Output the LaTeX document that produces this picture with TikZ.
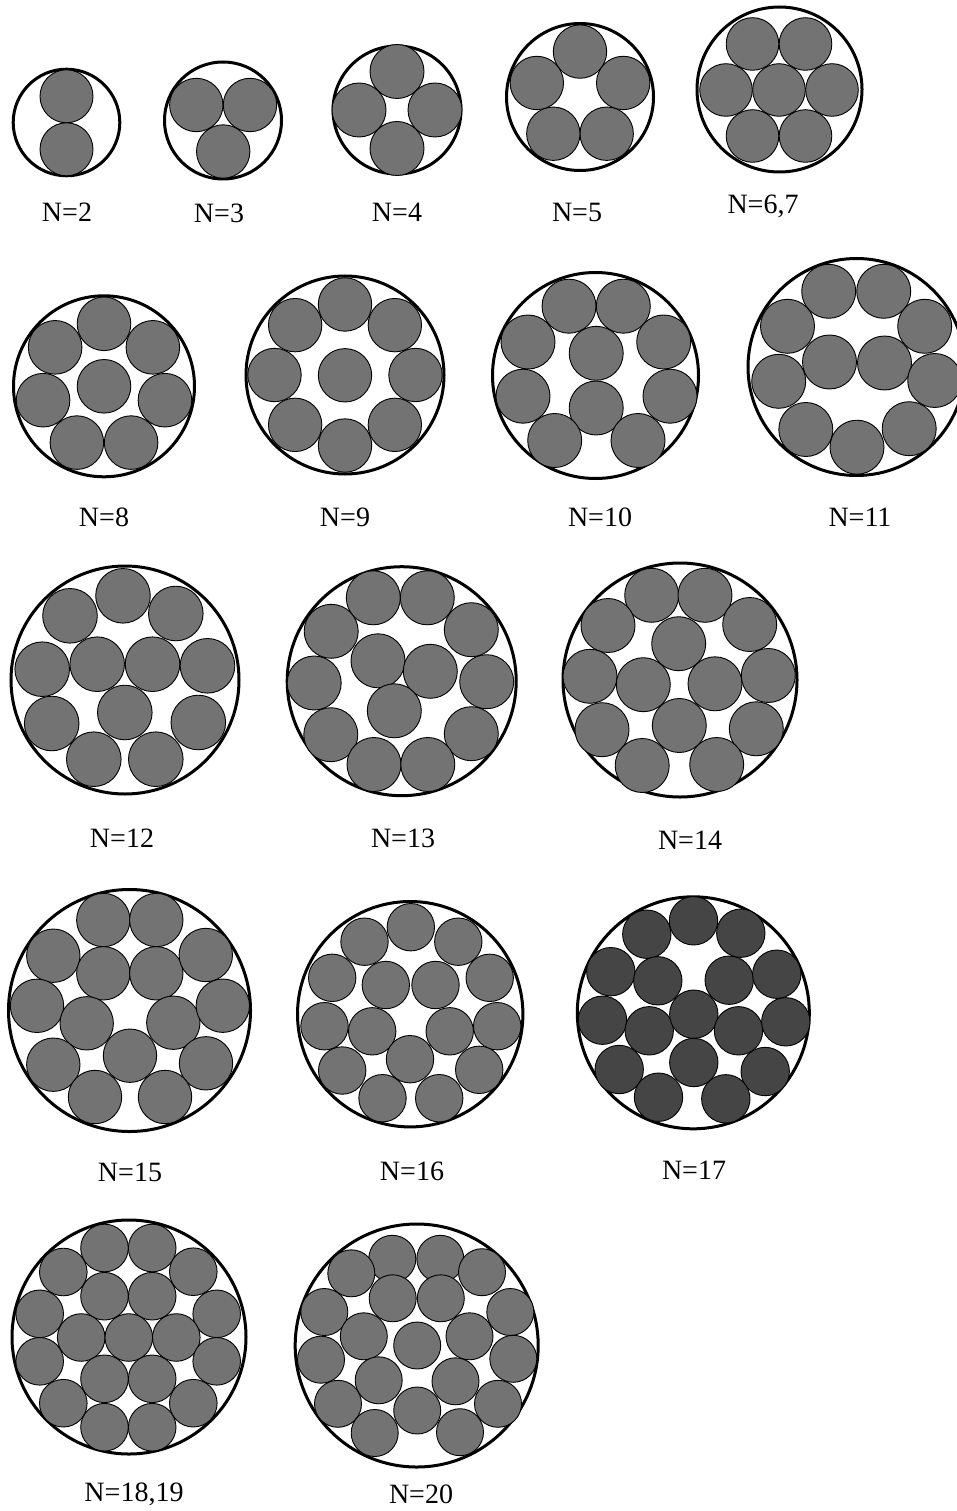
\documentclass[tikz,border=0pt]{standalone}
\usepackage{fontspec}
\setmainfont{Liberation Serif}
\definecolor{ballgray}{gray}{0.45}
\definecolor{darkball}{gray}{0.27}
\tikzset{
  ball/.style={fill=ballgray, draw=black, line width=0.9pt},
  dball/.style={fill=darkball, draw=black, line width=0.9pt},
  outer/.style={draw=black, line width=3pt},
  lab/.style={font=\fontsize{28}{30}\selectfont, inner sep=0pt}
}
\newcommand\ballset[3]{\foreach \px/\py in {#3} {\draw[#1] (\px,\py) circle (#2);}}
\begin{document}
\begin{tikzpicture}[x=1pt,y=-1pt]
\useasboundingbox (0,0) rectangle (956,1511);
\fill[white] (0,0) rectangle (956,1511);
% ---------- row 1 ----------
% N=2
\draw[outer] (66.5,122.5) circle (53.3);
\ballset{ball}{26.5}{66.5/96.3, 66.5/149.3}
% N=3
\draw[outer] (223,120.5) circle (58.5);
\ballset{ball}{26.7}{196.3/105, 250/105, 223.2/151.5}
% N=4
\draw[outer] (397,110) circle (64);
\ballset{ball}{27}{397/71.5, 359/110, 435/110, 397/148.5}
% N=5
\draw[outer] (580,97) circle (73.5);
\foreach \k in {0,...,4} {\draw[ball] (580,97) ++({-90+\k*72}:45.4) circle (26.7);}
% N=6,7
\draw[outer] (779.5,89.5) circle (82.5);
\ballset{ball}{26.3}{779/90, 726/90, 832/90, 752.5/44, 805.5/44, 752.5/136, 805.5/136}
% ---------- row 2 ----------
% N=8
\draw[outer] (104,386.3) circle (90.5);
\draw[ball] (104,386.3) circle (26.8);
\foreach \k in {0,...,6} {\draw[ball] (104,386.3) ++({-90+\k*360/7}:62.5) circle (26.8);}
% N=9
\draw[outer] (345,375) circle (99);
\draw[ball] (345,375.3) circle (26.7);
\foreach \k in {0,...,7} {\draw[ball] (345,375) ++({-90+\k*45}:70.5) circle (26.7);}
% N=10
\draw[outer] (595.5,375.5) circle (103);
\ballset{ball}{27}{569/306.2, 623.3/306.2, 528/342, 663.7/342, 596.2/353.3, 523/396.2, 670/396.2, 596.2/408, 554.7/440.5, 638/440.5}
% N=11
\draw[outer] (856.5,367) circle (108.5);
\ballset{ball}{27}{828.7/291.3, 883.7/291.3, 787.5/326.3, 924.7/326.3, 829.5/362, 884.5/363, 778.7/381.3, 934.7/380.5, 805.8/429.5, 909.2/428.7, 857/447.2}
% ---------- row 3 ----------
% N=12
\draw[outer] (125,680) circle (114);
\ballset{ball}{27.3}{123/595.8, 70/615.8, 175.8/613.5, 42.2/669.2, 97.2/664.2, 152.5/664.2, 207.5/665.8, 51.7/723.5, 124.8/712.5, 198.3/722.5, 93.8/759.2, 155.8/759.2}
% N=13
\draw[outer] (401.7,681.2) circle (114.5);
\ballset{ball}{27}{373.3/597.8, 427.3/597.8, 331.2/631.3, 471.3/629.7, 378/660.8, 430.3/671.3, 314.2/683, 486.7/681.7, 394.3/710.8, 330.8/734.7, 471.3/733.7, 374/764.5, 427.8/764.5}
% N=14
\draw[outer] (680,680) circle (117);
\ballset{ball}{27}{651.7/595.3, 705/595.3, 608/625.5, 749.7/624.5, 678.7/643.7, 590/676.3, 643.3/684.7, 715/683.8, 768.3/675.5, 602/729.7, 679.3/725.5, 756.3/728.8, 642.2/765.5, 716.7/764.5}
% ---------- row 4 ----------
% N=15
\draw[outer] (129.5,1010.5) circle (121);
\ballset{ball}{26.7}{103.3/920, 156.3/920, 53.3/955.7, 103.3/973.3, 156.3/973.3, 205.8/955, 37/1005.8, 86.7/1023.3, 173.3/1022.7, 222.8/1005.7, 130/1055.7, 53.3/1064.7, 206/1063.3, 95/1097, 165/1097}
% N=16
\draw[outer] (410.2,1014.2) circle (112.7);
\ballset{ball}{23.7}{410.8/927.2, 364.5/941.7, 458.3/941.7, 332.2/977.8, 489.7/977.8, 385.8/985, 435.5/985, 324.5/1026.2, 372.2/1031.3, 449.7/1031.3, 497.2/1026.2, 410/1059.2, 342.2/1070.5, 479.2/1069.8, 382.5/1098.2, 439.2/1098.2}
% N=17
\draw[outer] (693.3,1012.8) circle (116);
\ballset{dball}{24.2}{693.5/920.8, 646.8/934.2, 740.8/933.2, 610.8/971.7, 657.8/980.8, 729.2/980.2, 776.8/974.2, 602.5/1020.2, 649.2/1030.8, 693.8/1014.2, 738.5/1030.8, 785.8/1021.8, 619.2/1069.5, 693.8/1062.5, 765.2/1071.5, 658.5/1097.2, 725.8/1098.8}
% ---------- row 5 ----------
% N=18,19
\draw[outer] (129,1337) circle (117);
\ballset{ball}{23.8}{104.5/1248, 152.2/1248, 63.3/1272, 193.3/1271.7, 104.5/1296.2, 152.2/1296.2, 39.7/1313.8, 216.7/1313.8, 81.2/1337.5, 128.8/1337.5, 176.3/1337.5, 39.7/1361.3, 216.7/1361.3, 104.5/1378.8, 152.2/1378.8, 63.3/1403.2, 193.3/1403.2, 104.5/1427.2, 152.2/1427.2}
% N=20
\draw[outer] (416.7,1345.5) circle (121.5);
\ballset{ball}{23.5}{392.3/1258.8, 440.3/1258.8, 351.3/1273.3, 482/1272.2, 392.7/1298.3, 440.8/1298.3, 324.3/1312, 510.3/1312, 363.8/1336.3, 417.2/1345.5, 469.5/1336.3, 321/1359.7, 513.3/1358.8, 378.7/1380.3, 455.5/1381.3, 338/1403.8, 498/1403.8, 417.2/1410.5, 374.7/1433, 460/1432.2}
% ---------- labels ----------
\node[lab] (l2) at (67,212) {N=2};
\node[lab] (l3) at (219,213) {N=3};
\node[lab] (l4) at (397,212) {N=4};
\node[lab] (l5) at (577,212) {N=5};
\node[lab] (l67) at (763,206) {N=6,7};
\node[lab] (l8) at (104,517) {N=8};
\node[lab] (l9) at (345,517) {N=9};
\node[lab] (l10) at (600,517) {N=10};
\node[lab] (l11) at (860,517) {N=11};
\node[lab] (l12) at (122,838) {N=12};
\node[lab] (l13) at (403,838) {N=13};
\node[lab] (l14) at (690,840) {N=14};
\node[lab] (l15) at (130,1172) {N=15};
\node[lab] (l16) at (412,1171) {N=16};
\node[lab] (l17) at (694,1170) {N=17};
\node[lab] (l1819) at (134,1494) {N=18,19};
\node[lab] (l20) at (421,1494) {N=20};
\end{tikzpicture}
\end{document}
